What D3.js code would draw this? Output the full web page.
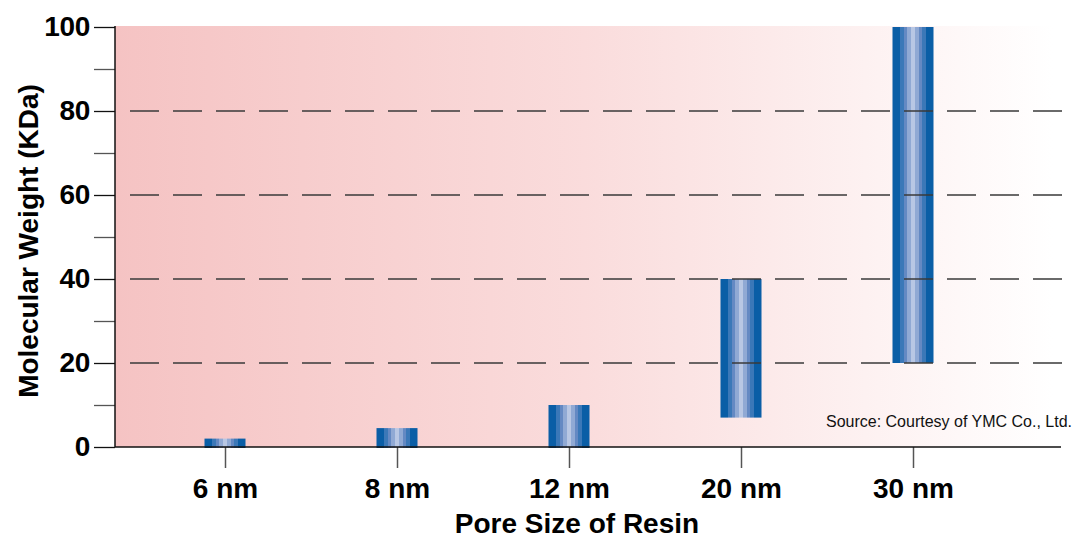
<!DOCTYPE html>
<html lang="en">
    <head>
        <meta charset="utf-8">
        <title>Pore Size of Resin</title>
        <script src="https://cdn.jsdelivr.net/npm/d3@7"></script>
        <style type="text/css">
            body { margin: 0; background: white; }
            text { font-family: "Liberation Sans", Arial, sans-serif; }
        </style>
    </head>
    <body>
        <script type="text/javascript">
            const categories = ["6 nm", "8 nm", "12 nm", "20 nm", "30 nm"]
            const lowValues = [0, 0, 0, 7, 20]
            const highValues = [2, 4.5, 10, 40, 100]
            const yTicks = [0, 20, 40, 60, 80, 100]
            const yMinorTicks = [10, 30, 50, 70, 90]
            const gridValues = [20, 40, 60, 80]

            const w = 1073
            const h = 539
            const plotLeft = 115
            const plotRight = 1061
            const plotTop = 27
            const plotBottom = 447
            const barWidth = 41

            const svg = d3.select("body")
                            .append("svg")
                            .attr("width", w)
                            .attr("height", h)

            const xScale = d3.scalePoint()
                            .domain(categories)
                            .range([225, 913])

            const yScale = d3.scaleLinear()
                            .domain([0, 100])
                            .range([plotBottom, plotTop])

            const defs = svg.append("defs")
            const bg = defs.append("linearGradient")
                            .attr("id", "bg")
                            .attr("x1", "0").attr("x2", "1")
                            .attr("y1", "0").attr("y2", "0")
            bg.append("stop").attr("offset", "0").attr("stop-color", "#f5c3c3")
            bg.append("stop").attr("offset", "0.5").attr("stop-color", "#fadcdc")
            bg.append("stop").attr("offset", "1").attr("stop-color", "#ffffff")

            // striped fill of the bars
            const stripes = ["#0a5ea6", "#0a5ea6", "#3b78b8", "#6489c3", "#90a9d4", "#b8c7e4",
                             "#90a9d4", "#6489c3", "#3b78b8", "#0a5ea6", "#0a5ea6"]
            const barGrad = defs.append("linearGradient")
                            .attr("id", "bar")
                            .attr("x1", "0").attr("x2", "1")
                            .attr("y1", "0").attr("y2", "0")
            stripes.forEach((c, i) => {
                barGrad.append("stop").attr("offset", i / stripes.length).attr("stop-color", c)
                barGrad.append("stop").attr("offset", (i + 1) / stripes.length).attr("stop-color", c)
            })

            svg.append("rect")
                .attr("x", plotLeft)
                .attr("y", plotTop - 1)
                .attr("width", 1053 - plotLeft)
                .attr("height", plotBottom - plotTop + 1)
                .attr("fill", "url(#bg)")

            // bars
            svg.selectAll("rect.bar")
                .data(categories)
                .enter()
                .append("rect")
                .attr("class", "bar")
                .attr("x", d => xScale(d) - barWidth / 2)
                .attr("y", (d, i) => yScale(highValues[i]))
                .attr("width", barWidth)
                .attr("height", (d, i) => yScale(lowValues[i]) - yScale(highValues[i]) + (lowValues[i] === 0 ? 1 : 0))
                .attr("fill", "url(#bar)")

            // dashed grid
            svg.selectAll("line.grid")
                .data(gridValues)
                .enter()
                .append("line")
                .attr("class", "grid")
                .attr("x1", 130)
                .attr("x2", 1066)
                .attr("y1", d => yScale(d))
                .attr("y2", d => yScale(d))
                .attr("stroke", "#3a3a3a")
                .attr("stroke-width", 1.3)
                .attr("stroke-dasharray", "29,14")

            // y axis
            const yAxis = d3.axisLeft(yScale)
                            .tickValues(yTicks)
                            .tickSize(21)
                            .tickPadding(4)
            const gy = svg.append("g")
                .attr("transform", `translate(${plotLeft}, 0)`)
                .call(yAxis)
            gy.select(".domain").remove()
            gy.selectAll(".tick line").attr("stroke", "#111").attr("stroke-width", 1.3)
            gy.selectAll(".tick text")
                .attr("font-family", "Liberation Sans, Arial, sans-serif")
                .attr("font-size", 28)
                .attr("font-weight", "bold")
                .attr("fill", "#000")
                .attr("letter-spacing", -0.3)

            const yMinor = d3.axisLeft(yScale)
                            .tickValues(yMinorTicks)
                            .tickSize(21)
                            .tickFormat("")
            const gm = svg.append("g")
                .attr("transform", `translate(${plotLeft}, 0)`)
                .call(yMinor)
            gm.select(".domain").remove()
            gm.selectAll(".tick line").attr("stroke", "#555").attr("stroke-width", 1.3)

            svg.append("line")
                .attr("x1", plotLeft).attr("x2", plotLeft)
                .attr("y1", plotTop - 1).attr("y2", plotBottom)
                .attr("stroke", "#111")
                .attr("stroke-width", 1.5)

            // x axis
            const xAxis = d3.axisBottom(xScale)
                            .tickSize(21)
                            .tickPadding(10)
            const gx = svg.append("g")
                .attr("transform", `translate(0, ${plotBottom})`)
                .call(xAxis)
            gx.select(".domain").remove()
            gx.selectAll(".tick line").attr("stroke", "#555").attr("stroke-width", 1.5)
            gx.selectAll(".tick text")
                .attr("font-family", "Liberation Sans, Arial, sans-serif")
                .attr("font-size", 28)
                .attr("font-weight", "bold")
                .attr("fill", "#000")

            svg.append("line")
                .attr("x1", plotLeft).attr("x2", plotRight)
                .attr("y1", plotBottom).attr("y2", plotBottom)
                .attr("stroke", "#111")
                .attr("stroke-width", 1.5)

            // titles
            svg.append("text")
                .text("Pore Size of Resin")
                .attr("x", 577)
                .attr("y", 533)
                .attr("text-anchor", "middle")
                .attr("font-size", 28)
                .attr("font-weight", "bold")

            svg.append("text")
                .text("Molecular Weight (KDa)")
                .attr("transform", "translate(38, 241) rotate(-90)")
                .attr("text-anchor", "middle")
                .attr("font-size", 28)
                .attr("font-weight", "bold")

            svg.append("text")
                .text("Source: Courtesy of YMC Co., Ltd.")
                .attr("x", 1072)
                .attr("y", 427)
                .attr("text-anchor", "end")
                .attr("font-size", 16)
                .attr("fill", "#111")
        </script>
    </body>
</html>
